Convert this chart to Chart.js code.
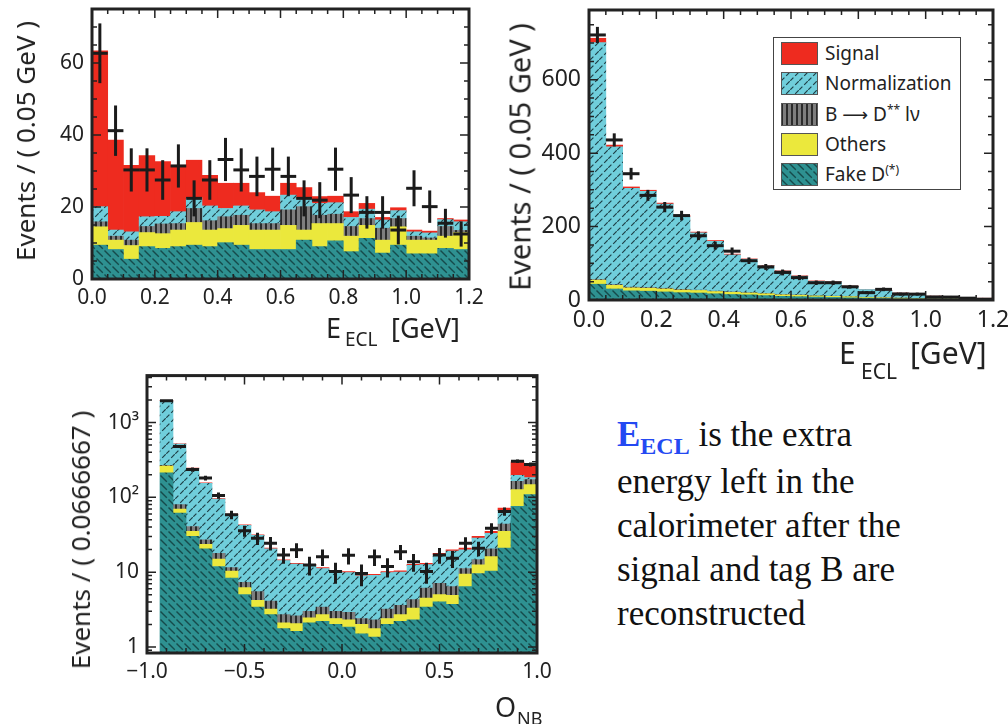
<!DOCTYPE html>
<html>
<head>
<meta charset="utf-8">
<title>E_ECL and O_NB fit projections</title>
<script src="https://cdn.jsdelivr.net/npm/chart.js@4.4.1/dist/chart.umd.min.js"></script>
<style>
  html, body { margin: 0; padding: 0; background: #fff; }
  body { position: relative; width: 1008px; height: 724px; overflow: hidden; font-family: "Noto Sans", sans-serif; color: #222; }
  canvas.plot { position: absolute; }
  .t { position: absolute; white-space: nowrap; line-height: 1; }
  .ytitle { position: absolute; white-space: nowrap; line-height: 1; font-size: 26px; transform: translate(-50%, -50%) rotate(-90deg); }
  #legend { position: absolute; left: 773px; top: 37px; width: 186px; height: 151px; border: 1px solid #444; background: #fff; }
  #legend canvas { position: absolute; left: 7px; }
  #legend span.lab { position: absolute; left: 51px; font-size: 19px; line-height: 23px; white-space: nowrap; }
  #legend .arr { font-family: "DejaVu Sans", sans-serif; font-size: 18px; }
  #legend sup { font-size: 12px; line-height: 0; }
  #note { position: absolute; left: 617px; top: 413px; font-family: "Liberation Serif", serif; font-size: 35px; line-height: 44px; color: #111; white-space: nowrap; }
  #note b { color: #2449f2; }
  #note b.sub { font-size: 24px; position: relative; top: 8px; }
</style>
</head>
<body>
<canvas id="c1" class="plot" width="500" height="380" style="left:0;top:-30px"></canvas>
<canvas id="c2" class="plot" width="530" height="365" style="left:500px;top:-30px"></canvas>
<canvas id="c3" class="plot" width="530" height="340" style="left:40px;top:355px"></canvas>

<div class="ytitle" style="left:25px;top:141px">Events / ( 0.05 GeV )</div>
<div class="ytitle" style="left:519px;top:157px;font-size:29px">Events / ( 0.05 GeV )</div>
<div class="ytitle" style="left:80px;top:540px">Events / ( 0.0666667 )</div>

<div class="t" style="left:326px;top:314px;font-size:27px">E</div>
<div class="t" style="left:345px;top:330px;font-size:19px">ECL</div>
<div class="t" style="left:391px;top:314px;font-size:27px">[GeV]</div>

<div class="t" style="left:839px;top:338px;font-size:30px">E</div>
<div class="t" style="left:861px;top:361px;font-size:21px">ECL</div>
<div class="t" style="left:910px;top:338px;font-size:30px">[GeV]</div>

<div class="t" style="left:495px;top:693px;font-size:27px">O</div>
<div class="t" style="left:517px;top:709px;font-size:18px">NB</div>

<div id="legend">
  <canvas width="37" height="23" data-k="signal" style="top:4px"></canvas><span class="lab" style="top:4px">Signal</span>
  <canvas width="37" height="23" data-k="norm" style="top:34px"></canvas><span class="lab" style="top:34px">Normalization</span>
  <canvas width="37" height="23" data-k="dss" style="top:65px"></canvas><span class="lab" style="top:65px">B <span class="arr">⟶</span> D<sup>**</sup> lν</span>
  <canvas width="37" height="23" data-k="others" style="top:95px"></canvas><span class="lab" style="top:95px">Others</span>
  <canvas width="37" height="23" data-k="fake" style="top:125px"></canvas><span class="lab" style="top:125px">Fake D<sup>(*)</sup></span>
</div>

<div id="note"><b>E</b><b class="sub">ECL</b> is the extra<br>energy left in the<br>calorimeter after the<br>signal and tag B are<br>reconstructed</div>

<script>
// ---- E_ECL, 24 bins of 0.05 GeV ----
const eclBins = [0.025, 0.075, 0.125, 0.175, 0.225, 0.275, 0.325, 0.375, 0.425, 0.475, 0.525, 0.575,
                 0.625, 0.675, 0.725, 0.775, 0.825, 0.875, 0.925, 0.975, 1.025, 1.075, 1.125, 1.175];
const eclXTicks = [0, 0.2, 0.4, 0.6, 0.8, 1.0, 1.2];
const eclXLabels = ['0.0', '0.2', '0.4', '0.6', '0.8', '1.0', '1.2'];

// signal-enhanced region (top left)
const sigYTicks = [0, 20, 40, 60];
const sigYLabels = ['0', '20', '40', '60'];
const sigFake = [9.4, 8.2, 5.5, 9.0, 8.5, 9.0, 9.4, 9.0, 10.1, 9.4, 8.2, 8.2, 8.2, 10.8, 9.0, 10.6, 7.6, 11.3, 7.2, 9.4, 7.0, 7.0, 8.5, 8.2];
const sigOthers = [5.1, 2.6, 3.8, 3.9, 4.1, 4.6, 6.3, 4.6, 3.9, 5.5, 5.4, 5.4, 6.7, 2.8, 6.4, 4.8, 4.3, 3.6, 3.6, 5.1, 3.8, 3.8, 3.4, 4.7];
const sigDss = [1.4, 1.1, 1.5, 1.7, 2.7, 1.8, 3.9, 2.6, 3.3, 2.8, 1.8, 1.8, 4.3, 6.5, 2.3, 2.6, 2.7, 1.9, 3.3, 2.3, 1.1, 0.6, 2.7, 0.6];
const sigNorm = [4.2, 1.7, 2.3, 2.7, 2.1, 3.3, 3.0, 4.1, 2.3, 2.6, 3.8, 3.3, 4.1, 2.0, 3.3, 3.2, 2.5, 2.6, 2.3, 2.2, 1.2, 1.4, 1.9, 2.4];
const sigSignal = [43.3, 25.0, 18.5, 17.0, 15.2, 12.9, 10.4, 8.5, 7.0, 6.3, 4.8, 4.3, 3.3, 3.3, 1.9, 1.8, 1.6, 1.6, 0.7, 0.8, 0.5, 0.5, 0.3, 0.5];
const sigData = [62.7, 41.2, 30.3, 30.3, 27.5, 31.4, 22.4, 27.5, 33.2, 30.3, 28.5, 30.5, 28.5, 22.4, 21.9, 30.5, 23.3, 18.5, 18.5, 13.6, 25.2, 20.1, 15.5, 12.5];
const sigErr = [8.3, 7.0, 6.0, 6.0, 5.5, 6.0, 5.0, 5.5, 6.0, 6.0, 5.5, 6.0, 5.5, 5.0, 5.0, 6.0, 5.0, 4.5, 4.5, 4.0, 5.0, 4.5, 4.0, 3.5];

// full sample (top right)
const allYTicks = [0, 200, 400, 600];
const allYLabels = ['0', '200', '400', '600'];
const allFake = [43, 30, 25, 24, 22, 20, 19, 17, 15, 14, 12, 10, 9, 8, 7, 6, 5, 4, 3, 3, 2, 2, 1, 1];
const allOthers = [11, 10, 8, 8, 8, 7, 7, 6, 6, 5, 5, 4, 4, 3, 3, 3, 2, 2, 2, 1, 1, 1, 1, 0.5];
const allDss = [2, 2, 2, 2, 2, 2, 1, 1, 1, 1, 1, 1, 1, 0.5, 0.5, 0.5, 0.5, 0.5, 0.5, 0.3, 0.2, 0.2, 0.1, 0.1];
const allNorm = [645, 375, 269, 262, 229, 198, 156, 136, 101, 91, 75, 64, 51, 39.5, 38.5, 28, 21, 19, 14, 12.4, 7.6, 5.6, 3.8, 3.3];
const allSignal = [12, 5, 4, 3, 3, 3, 2, 2, 2, 1, 1, 1, 1, 1, 1, 0.5, 0.5, 0.5, 0.5, 0.3, 0.2, 0.2, 0.1, 0.1];
const allData = [722, 436, 344, 285, 253, 230, 175, 148, 133, 107, 90, 75, 61, 47, 47, 36, 20, 29, 16, 16, 8, 8, 5, 2];
const allErr = [22, 18, 16, 15, 14, 13, 12, 11, 10, 9, 8, 8, 7, 6, 6, 5, 4, 5, 4, 4, 3, 3, 2, 1.5];

// ---- O_NB, 30 bins of 0.0666667 (bottom) ----
const onbBins = [-0.9667, -0.9, -0.8333, -0.7667, -0.7, -0.6333, -0.5667, -0.5, -0.4333, -0.3667,
                 -0.3, -0.2333, -0.1667, -0.1, -0.0333, 0.0333, 0.1, 0.1667, 0.2333, 0.3,
                 0.3667, 0.4333, 0.5, 0.5667, 0.6333, 0.7, 0.7667, 0.8333, 0.9, 0.9667];
const onbXTicks = [-1, -0.5, 0, 0.5, 1];
const onbXLabels = ['\u22121.0', '\u22120.5', '0.0', '0.5', '1.0'];
const onbYTicks = [1, 10, 100, 1000];
const onbYLabels = ['1', '10', '10\u00b2', '10\u00b3'];
const onbFake = [null, 212, 61.5, 30, 20.5, 11.9, 8.3, 5.0, 3.4, 2.7, 1.76, 1.62, 2.1, 2.2, 2.0, 1.85, 1.5, 1.36, 2.0, 2.2, 2.3, 3.4, 4.0, 3.7, 6.4, 9.6, 10.3, 20.9, 75.7, 109];
const onbOthers = [null, 49, 8.1, 5, 3.1, 3.0, 2.0, 1.2, 0.8, 0.5, 0.34, 0.43, 0.35, 0.5, 0.4, 0.45, 0.5, 0.4, 0.4, 0.5, 1.0, 1.1, 1.0, 1.2, 3.0, 2.9, 5.8, 14.1, 51.3, 39];
const onbDss = [null, 7, 10.2, 5.8, 3.4, 3.0, 1.2, 1.1, 1.3, 0.9, 0.6, 0.55, 0.55, 0.7, 0.6, 0.6, 0.4, 0.54, 0.8, 0.9, 1.0, 1.6, 2.1, 1.5, 1.8, 2.2, 4.4, 8.8, 37, 25];
const onbNorm = [null, 1698, 435, 203, 127, 76.6, 47.2, 34.9, 25.5, 16.4, 11.6, 10.2, 9.4, 7.8, 7.1, 7.0, 6.5, 6.75, 6.7, 6.4, 8.0, 6.5, 10.0, 12.7, 8.7, 13.8, 12.5, 23.1, 33, 10];
const onbSignal = [null, 20, 5, 3, 2, 1.5, 1, 0.8, 0.6, 0.4, 0.3, 0.3, 0.3, 0.3, 0.3, 0.3, 0.3, 0.3, 0.3, 0.4, 0.4, 0.5, 0.8, 0.8, 1.0, 1.5, 2, 5, 101, 86];
const onbData = [null, 1950, 480, 235, 181, 106, 58.5, 35.7, 28.4, 24.4, 17.0, 19.9, 12.5, 16.1, 10.2, 16.8, 9.6, 16.1, 11.9, 18.8, 13.8, 10.2, 17.0, 15.3, 24.4, 20.9, 38.7, 64.9, 304, 275];
const onbErr = [null, 44, 22, 15, 13, 10, 7.6, 6, 5.3, 5, 4.1, 4.5, 3.5, 4, 3.2, 4.1, 3.1, 4, 3.4, 4.3, 3.7, 3.2, 4.1, 3.9, 4.9, 4.6, 6.2, 8, 17, 17];

const RED = '#ee2b1f';
const YELLOW = '#ebe83c';

function makePattern(kind) {
  const c = document.createElement('canvas');
  const g = c.getContext('2d');
  if (kind === 'norm') {
    c.width = c.height = 9;
    g.fillStyle = '#70cedb';
    g.fillRect(0, 0, 9, 9);
    g.strokeStyle = '#1e3f46';
    g.lineWidth = 1.2;
    g.beginPath();
    g.moveTo(0.3, 8.7); g.lineTo(3.4, 5.6);
    g.moveTo(5.2, 3.8); g.lineTo(8.7, 0.3);
    g.stroke();
  } else if (kind === 'fake') {
    c.width = c.height = 8;
    g.fillStyle = '#2e9191';
    g.fillRect(0, 0, 8, 8);
    g.strokeStyle = '#164a4b';
    g.lineWidth = 1.4;
    g.beginPath(); g.moveTo(0.5, 0.5); g.lineTo(6.8, 6.8); g.stroke();
  } else {
    c.width = 5; c.height = 4;
    g.fillStyle = '#7e7e7e';
    g.fillRect(0, 0, 5, 4);
    g.fillStyle = '#2b2b2b';
    g.fillRect(0, 0, 2, 4);
  }
  return g.createPattern(c, 'repeat');
}
const fills = { signal: RED, others: YELLOW, norm: makePattern('norm'), fake: makePattern('fake'), dss: makePattern('dss') };

// vertical error bars for the data points
const errorBars = {
  id: 'errorBars',
  afterDatasetsDraw(chart) {
    const { ctx, chartArea: a, scales: { y } } = chart;
    chart.data.datasets.forEach((ds, di) => {
      if (!ds.errors) return;
      const meta = chart.getDatasetMeta(di);
      ctx.save();
      ctx.beginPath();
      ctx.rect(a.left, a.top, a.right - a.left, a.bottom - a.top);
      ctx.clip();
      ctx.strokeStyle = '#1b1b1b';
      ctx.lineWidth = 3;
      meta.data.forEach((pt, i) => {
        const v = ds.data[i].y, e = ds.errors[i];
        if (v == null) return;
        const lo = Math.max(v - e, y.min);
        ctx.beginPath();
        ctx.moveTo(pt.x, y.getPixelForValue(v + e));
        ctx.lineTo(pt.x, y.getPixelForValue(lo));
        ctx.stroke();
      });
      ctx.restore();
    });
  }
};

// heavy frame with inward ticks on all four sides
const frame = {
  id: 'frame',
  afterDraw(chart, args, opts) {
    const { ctx, chartArea: a, scales: { x, y } } = chart;
    ctx.save();
    ctx.strokeStyle = '#222';
    ctx.lineWidth = 1.5;
    ctx.beginPath();
    const nx = Math.round((x.max - x.min) / opts.xMinor);
    for (let k = 0; k <= nx; k++) {
      const v = x.min + k * opts.xMinor;
      const len = Math.abs(v / opts.xMajor - Math.round(v / opts.xMajor)) < 1e-6 ? 9 : 5;
      const px = x.getPixelForValue(v);
      ctx.moveTo(px, a.bottom); ctx.lineTo(px, a.bottom - len);
      ctx.moveTo(px, a.top); ctx.lineTo(px, a.top + len);
    }
    const yv = [];
    if (opts.log) {
      for (let d = -1; d <= 4; d++) for (let m = 1; m <= 9; m++) yv.push([m * Math.pow(10, d), m === 1]);
    } else {
      const ny = Math.floor((y.max - y.min) / opts.yMinor + 1e-9);
      for (let k = 0; k <= ny; k++) {
        const v = y.min + k * opts.yMinor;
        yv.push([v, Math.abs(v / opts.yMajor - Math.round(v / opts.yMajor)) < 1e-6]);
      }
    }
    yv.forEach(([v, major]) => {
      if (v < y.min || v > y.max) return;
      const py = y.getPixelForValue(v), len = major ? 9 : 5;
      ctx.moveTo(a.left, py); ctx.lineTo(a.left + len, py);
      ctx.moveTo(a.right, py); ctx.lineTo(a.right - len, py);
    });
    ctx.stroke();
    ctx.lineWidth = 3;
    ctx.strokeRect(a.left, a.top, a.right - a.left, a.bottom - a.top);
    ctx.restore();
  }
};

Chart.defaults.font.family = "'Noto Sans', sans-serif";
Chart.defaults.color = '#222';

function histChart(id, o) {
  const pts = arr => o.bins.map((x, i) => ({ x, y: arr[i] }));
  const halfBin = ctx => {
    const sx = ctx.chart.scales.x;
    return Math.abs(sx.getPixelForValue(o.binWidth) - sx.getPixelForValue(0)) / 2;
  };
  const bar = (label, arr, fill) => ({ type: 'bar', label, data: pts(arr), backgroundColor: fill, stack: 'mc' });
  return new Chart(document.getElementById(id), {
    data: {
      datasets: [
        { type: 'line', label: 'Data', data: pts(o.data), errors: o.err, stack: 'data', showLine: false,
          pointStyle: 'line', pointRadius: halfBin, pointHoverRadius: halfBin, pointBorderWidth: 3,
          pointBorderColor: '#1b1b1b', pointBackgroundColor: '#1b1b1b' },
        bar('Fake D(*)', o.fake, fills.fake),
        bar('Others', o.others, fills.others),
        bar('B \u2192 D** l\u03bd', o.dss, fills.dss),
        bar('Normalization', o.norm, fills.norm),
        bar('Signal', o.signal, fills.signal)
      ]
    },
    options: {
      responsive: false,
      animation: false,
      events: [],
      layout: { padding: o.pad },
      datasets: { bar: { barPercentage: 1, categoryPercentage: 1, borderWidth: 0 } },
      plugins: { legend: { display: false }, tooltip: { enabled: false }, frame: o.frame },
      scales: {
        x: {
          type: 'linear', min: o.xMin, max: o.xMax, offset: false, stacked: true,
          grid: { display: false, drawTicks: false }, border: { display: false },
          afterBuildTicks: s => { s.ticks = o.xTicks.map(value => ({ value })); },
          afterFit: s => { s.height = o.xHeight; },
          ticks: { autoSkip: false, maxRotation: 0, padding: o.xPad, font: { size: o.fontSize },
                   callback: (v, i) => o.xLabels[i] }
        },
        y: {
          type: o.yType, min: o.yMin, max: o.yMax, stacked: true,
          grid: { display: false, drawTicks: false }, border: { display: false },
          afterBuildTicks: s => { s.ticks = o.yTicks.map(value => ({ value })); },
          afterFit: s => { s.width = o.yWidth; },
          ticks: { autoSkip: false, padding: 8, font: { size: o.fontSize }, callback: (v, i) => o.yLabels[i] }
        }
      }
    },
    plugins: [errorBars, frame]
  });
}

histChart('c1', {
  bins: eclBins, binWidth: 0.05, xMin: 0, xMax: 1.2, xTicks: eclXTicks, xLabels: eclXLabels,
  yType: 'linear', yMin: 0, yMax: 75, yTicks: sigYTicks, yLabels: sigYLabels,
  fake: sigFake, others: sigOthers, dss: sigDss, norm: sigNorm, signal: sigSignal, data: sigData, err: sigErr,
  pad: { top: 39, right: 31, left: 0, bottom: 0 }, yWidth: 92, xHeight: 71, xPad: 6, fontSize: 21,
  frame: { xMajor: 0.2, xMinor: 0.05, yMajor: 20, yMinor: 5 }
});

histChart('c2', {
  bins: eclBins, binWidth: 0.05, xMin: 0, xMax: 1.2, xTicks: eclXTicks, xLabels: eclXLabels,
  yType: 'linear', yMin: 0, yMax: 790, yTicks: allYTicks, yLabels: allYLabels,
  fake: allFake, others: allOthers, dss: allDss, norm: allNorm, signal: allSignal, data: allData, err: allErr,
  pad: { top: 40, right: 37, left: 0, bottom: 0 }, yWidth: 89, xHeight: 35, xPad: 7, fontSize: 23,
  frame: { xMajor: 0.2, xMinor: 0.05, yMajor: 200, yMinor: 50 }
});

histChart('c3', {
  bins: onbBins, binWidth: 2 / 30, xMin: -1, xMax: 1, xTicks: onbXTicks, xLabels: onbXLabels,
  yType: 'logarithmic', yMin: 0.83, yMax: 4240, yTicks: onbYTicks, yLabels: onbYLabels,
  fake: onbFake, others: onbOthers, dss: onbDss, norm: onbNorm, signal: onbSignal, data: onbData, err: onbErr,
  pad: { top: 20, right: 33, left: 0, bottom: 0 }, yWidth: 107, xHeight: 42, xPad: 6, fontSize: 21,
  frame: { xMajor: 0.5, xMinor: 0.1, log: true }
});

// legend swatches use the same fills as the histograms
document.querySelectorAll('#legend canvas').forEach(cv => {
  const g = cv.getContext('2d');
  g.fillStyle = fills[cv.dataset.k];
  g.fillRect(0, 0, cv.width, cv.height);
  g.strokeStyle = '#555';
  g.lineWidth = 1;
  g.strokeRect(0.5, 0.5, cv.width - 1, cv.height - 1);
});
</script>
</body>
</html>
